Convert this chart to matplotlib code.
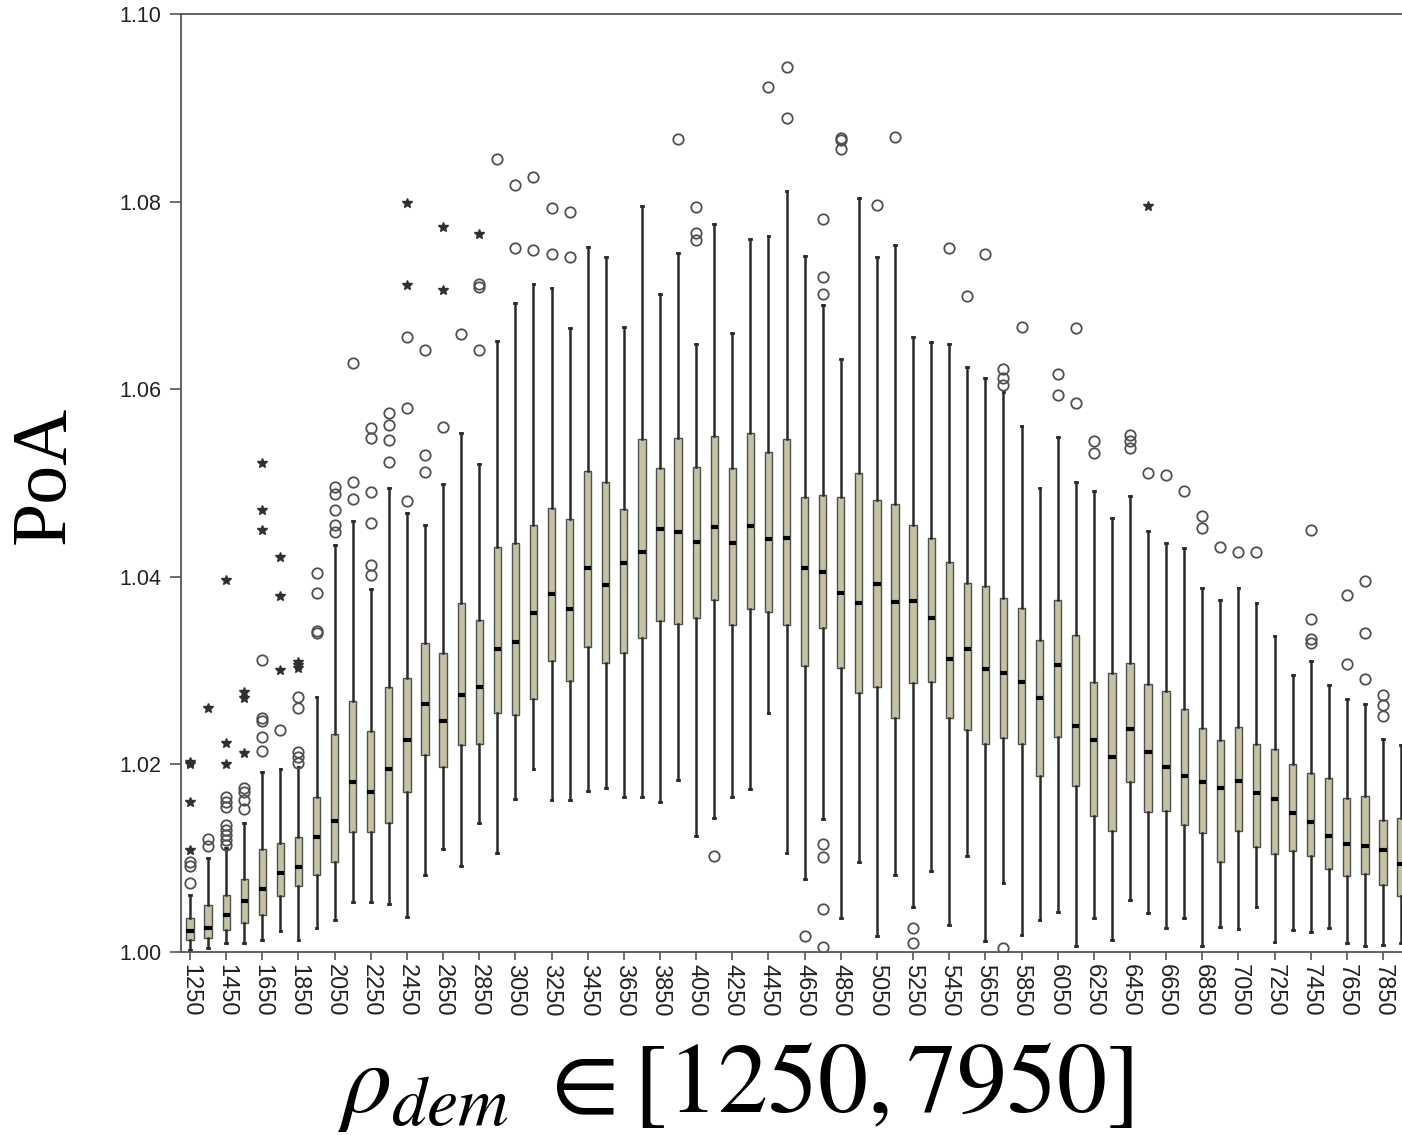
import numpy as np
import matplotlib.pyplot as plt

plt.rcParams['mathtext.fontset'] = 'stix'

# demand density categories
rho = np.arange(1250, 7951, 100)

# five-number summaries per category (PoA)
whis_hi = [1.0061, 1.0100, 1.0111, 1.0138, 1.0192, 1.0195, 1.0197, 1.0272, 1.0434, 1.0459,
           1.0387, 1.0495, 1.0468, 1.0455, 1.0499, 1.0553, 1.0520, 1.0651, 1.0692, 1.0712,
           1.0708, 1.0665, 1.0752, 1.0741, 1.0666, 1.0795, 1.0702, 1.0745, 1.0648, 1.0776,
           1.0660, 1.0760, 1.0763, 1.0811, 1.0742, 1.0690, 1.0632, 1.0804, 1.0741, 1.0754,
           1.0656, 1.0650, 1.0648, 1.0624, 1.0612, 1.0597, 1.0561, 1.0495, 1.0549, 1.0501,
           1.0491, 1.0463, 1.0486, 1.0449, 1.0436, 1.0431, 1.0388, 1.0375, 1.0388, 1.0372,
           1.0337, 1.0295, 1.0310, 1.0285, 1.0270, 1.0264, 1.0227, 1.0221]

q3 = [1.0036, 1.0050, 1.0061, 1.0078, 1.0110, 1.0116, 1.0123, 1.0165, 1.0232, 1.0268,
      1.0236, 1.0283, 1.0292, 1.0329, 1.0319, 1.0372, 1.0354, 1.0432, 1.0436, 1.0455,
      1.0473, 1.0462, 1.0513, 1.0501, 1.0472, 1.0547, 1.0516, 1.0548, 1.0517, 1.0550,
      1.0516, 1.0553, 1.0533, 1.0547, 1.0485, 1.0487, 1.0485, 1.0511, 1.0482, 1.0478,
      1.0455, 1.0441, 1.0416, 1.0393, 1.0390, 1.0377, 1.0367, 1.0333, 1.0375, 1.0338,
      1.0288, 1.0297, 1.0308, 1.0286, 1.0278, 1.0259, 1.0239, 1.0226, 1.0240, 1.0222,
      1.0216, 1.0200, 1.0191, 1.0186, 1.0164, 1.0166, 1.0141, 1.0143]

med = [1.0022, 1.0026, 1.0039, 1.0054, 1.0067, 1.0084, 1.0091, 1.0123, 1.0140, 1.0181,
       1.0171, 1.0195, 1.0226, 1.0264, 1.0246, 1.0274, 1.0283, 1.0323, 1.0330, 1.0361,
       1.0382, 1.0366, 1.0409, 1.0391, 1.0415, 1.0426, 1.0451, 1.0448, 1.0437, 1.0453,
       1.0436, 1.0454, 1.0440, 1.0441, 1.0409, 1.0405, 1.0383, 1.0372, 1.0392, 1.0373,
       1.0374, 1.0356, 1.0312, 1.0323, 1.0302, 1.0297, 1.0288, 1.0271, 1.0306, 1.0241,
       1.0226, 1.0208, 1.0238, 1.0213, 1.0197, 1.0188, 1.0181, 1.0175, 1.0182, 1.0170,
       1.0163, 1.0148, 1.0139, 1.0124, 1.0115, 1.0113, 1.0109, 1.0094]

q1 = [1.0013, 1.0015, 1.0023, 1.0031, 1.0039, 1.0060, 1.0070, 1.0082, 1.0096, 1.0128,
      1.0128, 1.0138, 1.0171, 1.0210, 1.0197, 1.0221, 1.0222, 1.0255, 1.0253, 1.0270,
      1.0310, 1.0289, 1.0325, 1.0308, 1.0319, 1.0335, 1.0353, 1.0350, 1.0356, 1.0375,
      1.0349, 1.0366, 1.0362, 1.0349, 1.0305, 1.0345, 1.0303, 1.0276, 1.0283, 1.0249,
      1.0287, 1.0288, 1.0249, 1.0237, 1.0222, 1.0228, 1.0222, 1.0188, 1.0229, 1.0177,
      1.0145, 1.0129, 1.0181, 1.0149, 1.0150, 1.0135, 1.0127, 1.0096, 1.0129, 1.0112,
      1.0104, 1.0108, 1.0102, 1.0088, 1.0081, 1.0083, 1.0071, 1.0060]

whis_lo = [1.0002, 1.0004, 1.0010, 1.0010, 1.0013, 1.0022, 1.0013, 1.0026, 1.0034, 1.0053,
           1.0053, 1.0051, 1.0037, 1.0082, 1.0110, 1.0092, 1.0138, 1.0106, 1.0163, 1.0195,
           1.0162, 1.0162, 1.0172, 1.0175, 1.0165, 1.0165, 1.0160, 1.0183, 1.0124, 1.0143,
           1.0165, 1.0174, 1.0255, 1.0106, 1.0078, 1.0142, 1.0036, 1.0096, 1.0017, 1.0082,
           1.0048, 1.0086, 1.0029, 1.0102, 1.0012, 1.0074, 1.0018, 1.0034, 1.0043, 1.0006,
           1.0036, 1.0013, 1.0055, 1.0042, 1.0026, 1.0036, 1.0006, 1.0027, 1.0025, 1.0048,
           1.0011, 1.0023, 1.0021, 1.0026, 1.0010, 1.0006, 1.0007, 1.0010]

# outliers (circles)
outliers = {
    1250: [1.0096, 1.0092, 1.0074],
    1350: [1.0120, 1.0113],
    1450: [1.0165, 1.0160, 1.0155, 1.0135, 1.0130, 1.0125, 1.0119, 1.0114],
    1550: [1.0175, 1.0171, 1.0162, 1.0152],
    1650: [1.0311, 1.0249, 1.0246, 1.0229, 1.0214],
    1750: [1.0237],
    1850: [1.0272, 1.0260, 1.0213, 1.0208, 1.0201],
    1950: [1.0404, 1.0383, 1.0342, 1.0340],
    2050: [1.0496, 1.0488, 1.0471, 1.0455, 1.0448],
    2150: [1.0628, 1.0501, 1.0483],
    2250: [1.0559, 1.0548, 1.0490, 1.0457, 1.0413, 1.0402],
    2350: [1.0575, 1.0562, 1.0546, 1.0522],
    2450: [1.0656, 1.0580, 1.0481],
    2550: [1.0642, 1.0530, 1.0512],
    2650: [1.0560],
    2750: [1.0659],
    2850: [1.0712, 1.0709, 1.0642],
    2950: [1.0845],
    3050: [1.0818, 1.0751],
    3150: [1.0826, 1.0748],
    3250: [1.0793, 1.0744],
    3350: [1.0789, 1.0741],
    3950: [1.0867],
    4050: [1.0794, 1.0767, 1.0759],
    4150: [1.0102],
    4450: [1.0922],
    4550: [1.0943, 1.0889],
    4650: [1.0017],
    4750: [1.0781, 1.0720, 1.0702, 1.0115, 1.0101, 1.0046, 1.0005],
    4850: [1.0868, 1.0866, 1.0856],
    5050: [1.0796],
    5150: [1.0869],
    5250: [1.0026, 1.0010],
    5450: [1.0751],
    5550: [1.0699],
    5650: [1.0744],
    5750: [1.0622, 1.0612, 1.0604, 1.0004],
    5850: [1.0666],
    6050: [1.0616, 1.0594],
    6150: [1.0665, 1.0585],
    6250: [1.0545, 1.0532],
    6450: [1.0551, 1.0545, 1.0537],
    6550: [1.0511],
    6650: [1.0509],
    6750: [1.0491],
    6850: [1.0465, 1.0452],
    6950: [1.0432],
    7050: [1.0426],
    7150: [1.0426],
    7450: [1.0450, 1.0355, 1.0334, 1.0329],
    7650: [1.0381, 1.0307],
    7750: [1.0396, 1.0340, 1.0291],
    7850: [1.0274, 1.0263, 1.0252],
}

# extreme values (stars)
extremes = {
    1250: [1.0203, 1.0200, 1.0160, 1.0109],
    1350: [1.0260],
    1450: [1.0397, 1.0223, 1.0200],
    1550: [1.0277, 1.0271, 1.0212],
    1650: [1.0521, 1.0471, 1.0450],
    1750: [1.0421, 1.0380, 1.0301],
    1850: [1.0309, 1.0306, 1.0303],
    2450: [1.0799, 1.0711],
    2650: [1.0773, 1.0706],
    2850: [1.0765],
    6550: [1.0795],
}

stats = []
for i, r in enumerate(rho):
    stats.append(dict(med=med[i], q1=q1[i], q3=q3[i],
                      whislo=whis_lo[i], whishi=whis_hi[i],
                      fliers=outliers.get(int(r), [])))

W, H = 1402, 1135
fig = plt.figure(figsize=(W / 100, H / 100), dpi=100)
ax = fig.add_axes([181 / W, 1 - 952 / H, 1 - 181 / W, (952 - 14) / H])

pos = np.arange(len(rho))
ax.bxp(stats, positions=pos, widths=0.4, patch_artist=True,
       boxprops=dict(facecolor='#c4c2a2', edgecolor='#505050', linewidth=1),
       whiskerprops=dict(color='#2a2a2a', linewidth=1.8),
       capprops=dict(color='#2a2a2a', linewidth=2), capwidths=0.1,
       medianprops=dict(color='black', linewidth=3),
       flierprops=dict(marker='o', markerfacecolor='none', markeredgecolor='#505050',
                       markersize=7.5, markeredgewidth=1.3))

for r, vals in extremes.items():
    i = int(np.where(rho == r)[0][0])
    ax.plot([i] * len(vals), vals, ls='none', marker='*', ms=7, color='#303030')

ax.set_xlim(-0.5, 67.05)
ax.set_ylim(1.0, 1.1)
ax.set_yticks(np.arange(1.0, 1.1001, 0.02))
ax.set_yticklabels(['%.2f' % v for v in np.arange(1.0, 1.1001, 0.02)],
                   fontsize=15.5, family='Liberation Sans', color='#222222')
ax.set_xticks(pos[::2])
ax.set_xticklabels([str(r) for r in rho[::2]], rotation=-90,
                   fontsize=17, family='Liberation Sans', color='#222222')

ax.spines['right'].set_visible(False)
for s in ['left', 'top', 'bottom']:
    ax.spines[s].set_color('#555555')
    ax.spines[s].set_linewidth(1.3)
ax.tick_params(direction='out', length=6, color='#555555', width=1.2, pad=3)
ax.tick_params(axis='y', length=8, pad=6)

fig.text(45 / W, 1 - 475 / H, 'PoA', rotation=90, family='Liberation Serif',
         fontsize=56, ha='center', va='center')
fig.text(735 / W, 1 - 1085 / H, r'$\rho_{dem}\ \in [1250,7950]$',
         fontsize=72, ha='center', va='center')

fig.savefig('out.png', dpi=100)
